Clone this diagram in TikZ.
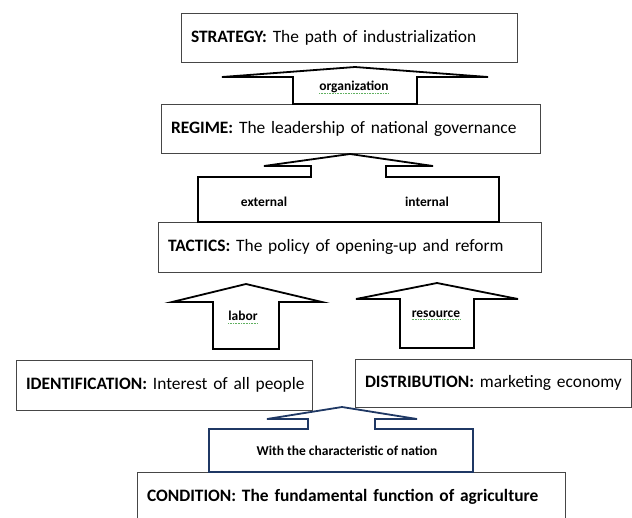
\documentclass[tikz,border=0pt]{standalone}
\usepackage{fontspec}
\setmainfont{Carlito}
\definecolor{boxgray}{RGB}{70,70,70}
\definecolor{navy}{RGB}{31,56,100}
\definecolor{spellgreen}{RGB}{96,176,96}
\begin{document}
\begin{tikzpicture}[x=1pt,y=-1pt,
  stage/.style={draw=boxgray,line width=0.8pt,align=left,inner xsep=10pt,inner ysep=0pt,font=\fontsize{17.4}{19}\selectfont},
  flow/.style={draw=black,line width=1.8pt,fill=white},
  tag/.style={inner sep=0pt,font=\fontsize{13.5}{15}\selectfont\bfseries},
  squiggle/.style={draw=spellgreen,line width=0.6pt,dash pattern=on 0.8pt off 0.8pt}]
  \clip (0,0) rectangle (632,517);
  % Stage boxes
  \node[stage,text width=316pt,minimum height=49pt] (strategy) at (349,37.5) {\mbox{\textbf{STRATEGY:} The path of industrialization}};
  \node[stage,text width=359pt,minimum height=49pt] (regime) at (350.5,128.5) {\mbox{\textbf{REGIME:} The leadership of national governance}};
  \node[stage,text width=363pt,minimum height=50pt] (tactics) at (349.5,247) {\mbox{\textbf{TACTICS:} The policy of opening-up and reform}};
  \node[stage,text width=276pt,minimum height=50pt] (identification) at (164,385) {\mbox{\textbf{IDENTIFICATION:} Interest of all people}};
  \node[stage,text width=256pt,minimum height=48pt] (distribution) at (493,383) {\mbox{\textbf{DISTRIBUTION:} marketing economy}};
  \node[stage,text width=408pt,minimum height=50pt] (condition) at (351,497) {\mbox{\textbf{CONDITION: The fundamental function of agriculture}}};
  % Up arrow into the strategy
  \draw[flow] (355,67) -- (488,77) -- (417,77) -- (417,104) -- (293,104) -- (293,77) -- (222,77) -- cycle;
  % Wide arrow into the regime
  \draw[flow] (350,154) -- (433,166) -- (386,166) -- (386,177) -- (499,177) -- (499,222)
    -- (198,222) -- (198,177) -- (311,177) -- (311,166) -- (264,166) -- cycle;
  % Two up arrows into the tactics
  \draw[flow] (246,284) -- (322,302) -- (279,302) -- (279,349) -- (213,349) -- (213,302) -- (172,302) -- cycle;
  \draw[flow] (437,283) -- (518,299) -- (474,299) -- (474,348) -- (400,348) -- (400,299) -- (356,299) -- cycle;
  % Base arrow out of the condition
  \draw[flow,draw=navy] (342,407) -- (417,419) -- (375,419) -- (375,429) -- (473,429) -- (473,472)
    -- (209,472) -- (209,429) -- (308,429) -- (308,419) -- (267,419) -- cycle;
  % Arrow labels
  \node[tag] (organization) at (354,87) {organization};
  \node[tag] (external) at (264,202) {external};
  \node[tag] (internal) at (427,202) {internal};
  \node[tag] (labor) at (243,316) {labor};
  \node[tag] (resource) at (436,314) {resource};
  \node[tag] (nation) at (347,451) {With the characteristic of nation};
  % Spell-check marks
  \foreach \w in {organization,labor,resource}
    \draw[squiggle] ([yshift=-2.5pt]\w.base west) -- ([yshift=-2.5pt]\w.base east);
\end{tikzpicture}
\end{document}
